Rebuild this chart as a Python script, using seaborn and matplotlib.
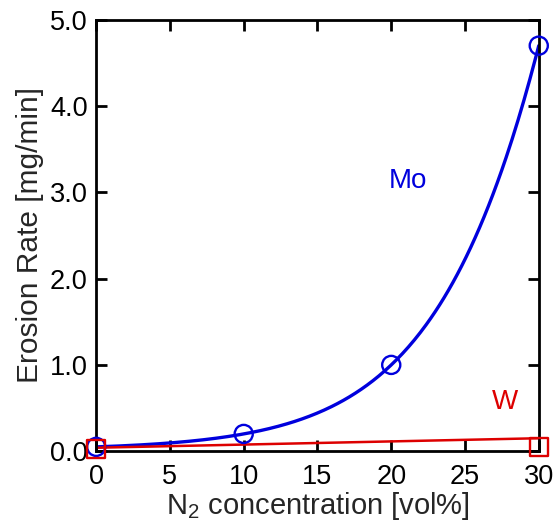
import numpy as np
import pandas as pd
import matplotlib
matplotlib.use("Agg")
import matplotlib.pyplot as plt
import seaborn as sns

# Data
n2_conc = [0, 10, 20, 30]
mo_rate = [0.05, 0.20, 1.00, 4.70]
w_conc = [0, 30]
w_rate = [0.03, 0.05]
w_fit = [0.04, 0.15]

sns.set_theme(style="ticks")
plt.rcParams['font.family'] = ['Liberation Sans', 'DejaVu Sans']
plt.rcParams['mathtext.fontset'] = 'custom'
plt.rcParams['mathtext.rm'] = 'Liberation Sans'

fig = plt.figure(figsize=(5.56, 5.21), dpi=100)
ax = fig.add_axes([0.173, 0.134, 0.796, 0.828])

blue = "#0000dd"
red = "#dd0000"

# Smooth Mo curve: cubic in log space through the points
coef = np.polyfit(n2_conc, np.log(mo_rate), 3)
xs = np.linspace(0, 30, 300)
curve = pd.DataFrame({"x": xs, "y": np.exp(np.polyval(coef, xs))})
sns.lineplot(data=curve, x="x", y="y", ax=ax, color=blue, linewidth=2.4)

sns.lineplot(x=w_conc, y=w_fit, ax=ax, color=red, linewidth=1.8)

sns.scatterplot(x=n2_conc, y=mo_rate, ax=ax, marker="o", s=170,
                facecolor="none", edgecolor=blue, linewidth=1.7, zorder=5)
sns.scatterplot(x=w_conc, y=w_rate, ax=ax, marker="s", s=170,
                facecolor="none", edgecolor=red, linewidth=1.7, zorder=5)

ax.text(21.1, 3.13, "Mo", color=blue, fontsize=20, ha="center", va="center")
ax.text(27.7, 0.57, "W", color=red, fontsize=20, ha="center", va="center")

ax.set_xlim(0, 30)
ax.set_ylim(0, 5)
ax.set_xticks([0, 5, 10, 15, 20, 25, 30])
ax.set_yticks([0, 1, 2, 3, 4, 5])
ax.set_yticklabels(["0.0", "1.0", "2.0", "3.0", "4.0", "5.0"])
ax.tick_params(direction="in", length=8, width=2, labelsize=19.5,
               top=True, right=True, pad=6, colors="black")
ax.tick_params(axis="x", pad=9)
for sp in ax.spines.values():
    sp.set_linewidth(2)
    sp.set_color("black")
    sp.set_visible(True)

ax.set_xlabel("N$_{2}$ concentration [vol%]", fontsize=21, labelpad=0)
ax.set_ylabel("Erosion Rate [mg/min]", fontsize=21.5, labelpad=4)
for c in ax.collections:
    c.set_clip_on(False)

fig.savefig("out.png", dpi=100)
